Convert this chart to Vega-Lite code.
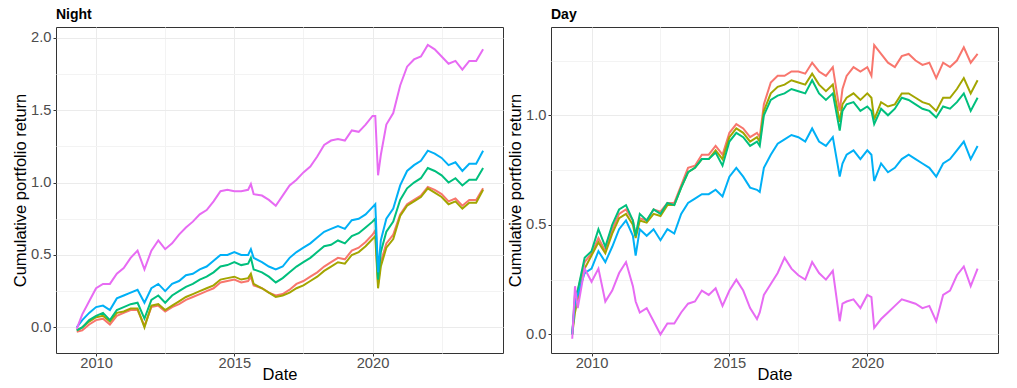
{
"$schema": "https://vega.github.io/schema/vega-lite/v6.json",
"padding": {"left": 12, "top": 7, "right": 4, "bottom": 0},
"config": {
  "view": {"stroke": "#333333", "strokeWidth": 1},
  "font": "Liberation Sans",
  "concat": {"spacing": 3},
  "title": {"anchor": "start", "frame": "group", "fontSize": 14, "fontWeight": "bold", "color": "#000000", "font": "Liberation Sans", "offset": 5},
  "axis": {"domain": false, "labelFont": "Liberation Sans", "labelFontSize": 14.7, "labelColor": "#4D4D4D", "titleFont": "Liberation Sans", "titleFontSize": 16.5, "titleFontWeight": "normal", "titleColor": "#000000", "tickColor": "#333333", "tickSize": 3, "labelPadding": 2, "titlePadding": 2},
  "axisX": {"labelPadding": -1, "titlePadding": -3}
},
"datasets": {
"night": [
{"t":2009.3,"s":"A","v":-0.03},{"t":2009.5,"s":"A","v":-0.02},{"t":2009.75,"s":"A","v":0.02},{"t":2010,"s":"A","v":0.05},{"t":2010.25,"s":"A","v":0.06},{"t":2010.5,"s":"A","v":0.02},{"t":2010.75,"s":"A","v":0.08},{"t":2011,"s":"A","v":0.10},{"t":2011.25,"s":"A","v":0.12},{"t":2011.5,"s":"A","v":0.12},{"t":2011.75,"s":"A","v":0.01},{"t":2012,"s":"A","v":0.14},{"t":2012.25,"s":"A","v":0.15},{"t":2012.5,"s":"A","v":0.11},{"t":2012.75,"s":"A","v":0.14},{"t":2013,"s":"A","v":0.16},{"t":2013.25,"s":"A","v":0.19},{"t":2013.5,"s":"A","v":0.21},{"t":2013.75,"s":"A","v":0.23},{"t":2014,"s":"A","v":0.25},{"t":2014.25,"s":"A","v":0.27},{"t":2014.5,"s":"A","v":0.31},{"t":2014.75,"s":"A","v":0.32},{"t":2015,"s":"A","v":0.33},{"t":2015.25,"s":"A","v":0.31},{"t":2015.5,"s":"A","v":0.32},{"t":2015.6,"s":"A","v":0.35},{"t":2015.7,"s":"A","v":0.29},{"t":2016,"s":"A","v":0.27},{"t":2016.25,"s":"A","v":0.24},{"t":2016.5,"s":"A","v":0.22},{"t":2016.75,"s":"A","v":0.23},{"t":2017,"s":"A","v":0.26},{"t":2017.25,"s":"A","v":0.30},{"t":2017.5,"s":"A","v":0.32},{"t":2017.75,"s":"A","v":0.35},{"t":2018,"s":"A","v":0.38},{"t":2018.25,"s":"A","v":0.42},{"t":2018.5,"s":"A","v":0.45},{"t":2018.75,"s":"A","v":0.48},{"t":2019,"s":"A","v":0.47},{"t":2019.25,"s":"A","v":0.53},{"t":2019.5,"s":"A","v":0.55},{"t":2019.75,"s":"A","v":0.59},{"t":2020,"s":"A","v":0.64},{"t":2020.1,"s":"A","v":0.67},{"t":2020.2,"s":"A","v":0.30},{"t":2020.3,"s":"A","v":0.45},{"t":2020.5,"s":"A","v":0.58},{"t":2020.75,"s":"A","v":0.64},{"t":2021,"s":"A","v":0.78},{"t":2021.25,"s":"A","v":0.85},{"t":2021.5,"s":"A","v":0.88},{"t":2021.75,"s":"A","v":0.91},{"t":2022,"s":"A","v":0.97},{"t":2022.25,"s":"A","v":0.95},{"t":2022.5,"s":"A","v":0.92},{"t":2022.75,"s":"A","v":0.87},{"t":2023,"s":"A","v":0.89},{"t":2023.25,"s":"A","v":0.84},{"t":2023.5,"s":"A","v":0.88},{"t":2023.75,"s":"A","v":0.88},{"t":2024,"s":"A","v":0.96},
{"t":2009.3,"s":"B","v":-0.02},{"t":2009.5,"s":"B","v":0.0},{"t":2009.75,"s":"B","v":0.04},{"t":2010,"s":"B","v":0.07},{"t":2010.25,"s":"B","v":0.08},{"t":2010.5,"s":"B","v":0.04},{"t":2010.75,"s":"B","v":0.10},{"t":2011,"s":"B","v":0.11},{"t":2011.25,"s":"B","v":0.13},{"t":2011.5,"s":"B","v":0.13},{"t":2011.75,"s":"B","v":0.0},{"t":2012,"s":"B","v":0.15},{"t":2012.25,"s":"B","v":0.16},{"t":2012.5,"s":"B","v":0.12},{"t":2012.75,"s":"B","v":0.15},{"t":2013,"s":"B","v":0.18},{"t":2013.25,"s":"B","v":0.21},{"t":2013.5,"s":"B","v":0.23},{"t":2013.75,"s":"B","v":0.25},{"t":2014,"s":"B","v":0.27},{"t":2014.25,"s":"B","v":0.29},{"t":2014.5,"s":"B","v":0.33},{"t":2014.75,"s":"B","v":0.34},{"t":2015,"s":"B","v":0.35},{"t":2015.25,"s":"B","v":0.33},{"t":2015.5,"s":"B","v":0.34},{"t":2015.6,"s":"B","v":0.37},{"t":2015.7,"s":"B","v":0.30},{"t":2016,"s":"B","v":0.27},{"t":2016.25,"s":"B","v":0.24},{"t":2016.5,"s":"B","v":0.21},{"t":2016.75,"s":"B","v":0.22},{"t":2017,"s":"B","v":0.24},{"t":2017.25,"s":"B","v":0.27},{"t":2017.5,"s":"B","v":0.29},{"t":2017.75,"s":"B","v":0.32},{"t":2018,"s":"B","v":0.35},{"t":2018.25,"s":"B","v":0.39},{"t":2018.5,"s":"B","v":0.42},{"t":2018.75,"s":"B","v":0.45},{"t":2019,"s":"B","v":0.44},{"t":2019.25,"s":"B","v":0.50},{"t":2019.5,"s":"B","v":0.52},{"t":2019.75,"s":"B","v":0.56},{"t":2020,"s":"B","v":0.61},{"t":2020.1,"s":"B","v":0.63},{"t":2020.2,"s":"B","v":0.27},{"t":2020.3,"s":"B","v":0.42},{"t":2020.5,"s":"B","v":0.55},{"t":2020.75,"s":"B","v":0.61},{"t":2021,"s":"B","v":0.77},{"t":2021.25,"s":"B","v":0.84},{"t":2021.5,"s":"B","v":0.87},{"t":2021.75,"s":"B","v":0.90},{"t":2022,"s":"B","v":0.96},{"t":2022.25,"s":"B","v":0.93},{"t":2022.5,"s":"B","v":0.90},{"t":2022.75,"s":"B","v":0.85},{"t":2023,"s":"B","v":0.87},{"t":2023.25,"s":"B","v":0.82},{"t":2023.5,"s":"B","v":0.86},{"t":2023.75,"s":"B","v":0.86},{"t":2024,"s":"B","v":0.95},
{"t":2009.3,"s":"C","v":-0.02},{"t":2009.5,"s":"C","v":0.0},{"t":2009.75,"s":"C","v":0.05},{"t":2010,"s":"C","v":0.08},{"t":2010.25,"s":"C","v":0.10},{"t":2010.5,"s":"C","v":0.05},{"t":2010.75,"s":"C","v":0.12},{"t":2011,"s":"C","v":0.14},{"t":2011.25,"s":"C","v":0.16},{"t":2011.5,"s":"C","v":0.17},{"t":2011.75,"s":"C","v":0.06},{"t":2012,"s":"C","v":0.19},{"t":2012.25,"s":"C","v":0.22},{"t":2012.5,"s":"C","v":0.17},{"t":2012.75,"s":"C","v":0.22},{"t":2013,"s":"C","v":0.25},{"t":2013.25,"s":"C","v":0.28},{"t":2013.5,"s":"C","v":0.30},{"t":2013.75,"s":"C","v":0.33},{"t":2014,"s":"C","v":0.35},{"t":2014.25,"s":"C","v":0.38},{"t":2014.5,"s":"C","v":0.42},{"t":2014.75,"s":"C","v":0.43},{"t":2015,"s":"C","v":0.45},{"t":2015.25,"s":"C","v":0.43},{"t":2015.5,"s":"C","v":0.44},{"t":2015.6,"s":"C","v":0.48},{"t":2015.7,"s":"C","v":0.40},{"t":2016,"s":"C","v":0.38},{"t":2016.25,"s":"C","v":0.35},{"t":2016.5,"s":"C","v":0.31},{"t":2016.75,"s":"C","v":0.34},{"t":2017,"s":"C","v":0.38},{"t":2017.25,"s":"C","v":0.42},{"t":2017.5,"s":"C","v":0.45},{"t":2017.75,"s":"C","v":0.48},{"t":2018,"s":"C","v":0.52},{"t":2018.25,"s":"C","v":0.56},{"t":2018.5,"s":"C","v":0.57},{"t":2018.75,"s":"C","v":0.60},{"t":2019,"s":"C","v":0.58},{"t":2019.25,"s":"C","v":0.63},{"t":2019.5,"s":"C","v":0.65},{"t":2019.75,"s":"C","v":0.69},{"t":2020,"s":"C","v":0.73},{"t":2020.1,"s":"C","v":0.75},{"t":2020.2,"s":"C","v":0.33},{"t":2020.3,"s":"C","v":0.52},{"t":2020.5,"s":"C","v":0.66},{"t":2020.75,"s":"C","v":0.73},{"t":2021,"s":"C","v":0.88},{"t":2021.25,"s":"C","v":0.96},{"t":2021.5,"s":"C","v":1.00},{"t":2021.75,"s":"C","v":1.03},{"t":2022,"s":"C","v":1.10},{"t":2022.25,"s":"C","v":1.08},{"t":2022.5,"s":"C","v":1.05},{"t":2022.75,"s":"C","v":1.00},{"t":2023,"s":"C","v":1.03},{"t":2023.25,"s":"C","v":0.98},{"t":2023.5,"s":"C","v":1.02},{"t":2023.75,"s":"C","v":1.02},{"t":2024,"s":"C","v":1.10},
{"t":2009.3,"s":"D","v":0.0},{"t":2009.5,"s":"D","v":0.05},{"t":2009.75,"s":"D","v":0.10},{"t":2010,"s":"D","v":0.14},{"t":2010.25,"s":"D","v":0.15},{"t":2010.5,"s":"D","v":0.12},{"t":2010.75,"s":"D","v":0.20},{"t":2011,"s":"D","v":0.22},{"t":2011.25,"s":"D","v":0.24},{"t":2011.5,"s":"D","v":0.26},{"t":2011.75,"s":"D","v":0.17},{"t":2012,"s":"D","v":0.27},{"t":2012.25,"s":"D","v":0.30},{"t":2012.5,"s":"D","v":0.25},{"t":2012.75,"s":"D","v":0.30},{"t":2013,"s":"D","v":0.32},{"t":2013.25,"s":"D","v":0.36},{"t":2013.5,"s":"D","v":0.37},{"t":2013.75,"s":"D","v":0.40},{"t":2014,"s":"D","v":0.42},{"t":2014.25,"s":"D","v":0.46},{"t":2014.5,"s":"D","v":0.50},{"t":2014.75,"s":"D","v":0.50},{"t":2015,"s":"D","v":0.52},{"t":2015.25,"s":"D","v":0.50},{"t":2015.5,"s":"D","v":0.50},{"t":2015.6,"s":"D","v":0.54},{"t":2015.7,"s":"D","v":0.48},{"t":2016,"s":"D","v":0.45},{"t":2016.25,"s":"D","v":0.42},{"t":2016.5,"s":"D","v":0.40},{"t":2016.75,"s":"D","v":0.42},{"t":2017,"s":"D","v":0.48},{"t":2017.25,"s":"D","v":0.52},{"t":2017.5,"s":"D","v":0.55},{"t":2017.75,"s":"D","v":0.58},{"t":2018,"s":"D","v":0.62},{"t":2018.25,"s":"D","v":0.66},{"t":2018.5,"s":"D","v":0.68},{"t":2018.75,"s":"D","v":0.70},{"t":2019,"s":"D","v":0.68},{"t":2019.25,"s":"D","v":0.74},{"t":2019.5,"s":"D","v":0.75},{"t":2019.75,"s":"D","v":0.78},{"t":2020,"s":"D","v":0.83},{"t":2020.1,"s":"D","v":0.85},{"t":2020.2,"s":"D","v":0.38},{"t":2020.3,"s":"D","v":0.60},{"t":2020.5,"s":"D","v":0.75},{"t":2020.75,"s":"D","v":0.82},{"t":2021,"s":"D","v":0.98},{"t":2021.25,"s":"D","v":1.08},{"t":2021.5,"s":"D","v":1.12},{"t":2021.75,"s":"D","v":1.15},{"t":2022,"s":"D","v":1.22},{"t":2022.25,"s":"D","v":1.20},{"t":2022.5,"s":"D","v":1.17},{"t":2022.75,"s":"D","v":1.12},{"t":2023,"s":"D","v":1.14},{"t":2023.25,"s":"D","v":1.08},{"t":2023.5,"s":"D","v":1.13},{"t":2023.75,"s":"D","v":1.13},{"t":2024,"s":"D","v":1.22},
{"t":2009.3,"s":"E","v":-0.01},{"t":2009.5,"s":"E","v":0.09},{"t":2009.75,"s":"E","v":0.18},{"t":2010,"s":"E","v":0.27},{"t":2010.25,"s":"E","v":0.30},{"t":2010.5,"s":"E","v":0.30},{"t":2010.75,"s":"E","v":0.37},{"t":2011,"s":"E","v":0.41},{"t":2011.25,"s":"E","v":0.48},{"t":2011.5,"s":"E","v":0.53},{"t":2011.75,"s":"E","v":0.40},{"t":2012,"s":"E","v":0.53},{"t":2012.25,"s":"E","v":0.60},{"t":2012.5,"s":"E","v":0.54},{"t":2012.75,"s":"E","v":0.58},{"t":2013,"s":"E","v":0.64},{"t":2013.25,"s":"E","v":0.69},{"t":2013.5,"s":"E","v":0.73},{"t":2013.75,"s":"E","v":0.78},{"t":2014,"s":"E","v":0.81},{"t":2014.25,"s":"E","v":0.87},{"t":2014.5,"s":"E","v":0.94},{"t":2014.75,"s":"E","v":0.95},{"t":2015,"s":"E","v":0.94},{"t":2015.25,"s":"E","v":0.94},{"t":2015.5,"s":"E","v":0.95},{"t":2015.6,"s":"E","v":0.99},{"t":2015.7,"s":"E","v":0.92},{"t":2016,"s":"E","v":0.91},{"t":2016.25,"s":"E","v":0.88},{"t":2016.5,"s":"E","v":0.84},{"t":2016.75,"s":"E","v":0.91},{"t":2017,"s":"E","v":0.98},{"t":2017.25,"s":"E","v":1.02},{"t":2017.5,"s":"E","v":1.07},{"t":2017.75,"s":"E","v":1.11},{"t":2018,"s":"E","v":1.18},{"t":2018.25,"s":"E","v":1.26},{"t":2018.5,"s":"E","v":1.29},{"t":2018.75,"s":"E","v":1.30},{"t":2019,"s":"E","v":1.29},{"t":2019.25,"s":"E","v":1.36},{"t":2019.5,"s":"E","v":1.35},{"t":2019.75,"s":"E","v":1.40},{"t":2020,"s":"E","v":1.46},{"t":2020.1,"s":"E","v":1.46},{"t":2020.2,"s":"E","v":1.05},{"t":2020.3,"s":"E","v":1.19},{"t":2020.5,"s":"E","v":1.40},{"t":2020.75,"s":"E","v":1.48},{"t":2021,"s":"E","v":1.67},{"t":2021.25,"s":"E","v":1.80},{"t":2021.5,"s":"E","v":1.85},{"t":2021.75,"s":"E","v":1.87},{"t":2022,"s":"E","v":1.95},{"t":2022.25,"s":"E","v":1.92},{"t":2022.5,"s":"E","v":1.87},{"t":2022.75,"s":"E","v":1.82},{"t":2023,"s":"E","v":1.84},{"t":2023.25,"s":"E","v":1.78},{"t":2023.5,"s":"E","v":1.84},{"t":2023.75,"s":"E","v":1.84},{"t":2024,"s":"E","v":1.92}
],
"day": [
{"t":2009.3,"s":"A","v":0.0},{"t":2009.4,"s":"A","v":0.15},{"t":2009.5,"s":"A","v":0.20},{"t":2009.75,"s":"A","v":0.33},{"t":2010,"s":"A","v":0.37},{"t":2010.25,"s":"A","v":0.44},{"t":2010.5,"s":"A","v":0.38},{"t":2010.75,"s":"A","v":0.48},{"t":2011,"s":"A","v":0.55},{"t":2011.25,"s":"A","v":0.57},{"t":2011.5,"s":"A","v":0.52},{"t":2011.6,"s":"A","v":0.45},{"t":2011.75,"s":"A","v":0.53},{"t":2012,"s":"A","v":0.52},{"t":2012.25,"s":"A","v":0.57},{"t":2012.5,"s":"A","v":0.56},{"t":2012.75,"s":"A","v":0.60},{"t":2013,"s":"A","v":0.60},{"t":2013.25,"s":"A","v":0.68},{"t":2013.5,"s":"A","v":0.76},{"t":2013.75,"s":"A","v":0.77},{"t":2014,"s":"A","v":0.82},{"t":2014.25,"s":"A","v":0.82},{"t":2014.5,"s":"A","v":0.86},{"t":2014.75,"s":"A","v":0.82},{"t":2015,"s":"A","v":0.92},{"t":2015.25,"s":"A","v":0.96},{"t":2015.5,"s":"A","v":0.94},{"t":2015.75,"s":"A","v":0.90},{"t":2016,"s":"A","v":0.92},{"t":2016.1,"s":"A","v":0.90},{"t":2016.25,"s":"A","v":1.05},{"t":2016.5,"s":"A","v":1.15},{"t":2016.75,"s":"A","v":1.18},{"t":2017,"s":"A","v":1.18},{"t":2017.25,"s":"A","v":1.20},{"t":2017.5,"s":"A","v":1.20},{"t":2017.75,"s":"A","v":1.19},{"t":2018,"s":"A","v":1.24},{"t":2018.25,"s":"A","v":1.20},{"t":2018.5,"s":"A","v":1.18},{"t":2018.75,"s":"A","v":1.22},{"t":2019,"s":"A","v":1.02},{"t":2019.1,"s":"A","v":1.12},{"t":2019.25,"s":"A","v":1.18},{"t":2019.5,"s":"A","v":1.22},{"t":2019.75,"s":"A","v":1.20},{"t":2020,"s":"A","v":1.22},{"t":2020.15,"s":"A","v":1.18},{"t":2020.25,"s":"A","v":1.32},{"t":2020.5,"s":"A","v":1.28},{"t":2020.75,"s":"A","v":1.24},{"t":2021,"s":"A","v":1.22},{"t":2021.25,"s":"A","v":1.27},{"t":2021.5,"s":"A","v":1.28},{"t":2021.75,"s":"A","v":1.25},{"t":2022,"s":"A","v":1.23},{"t":2022.25,"s":"A","v":1.24},{"t":2022.5,"s":"A","v":1.17},{"t":2022.75,"s":"A","v":1.24},{"t":2023,"s":"A","v":1.22},{"t":2023.25,"s":"A","v":1.25},{"t":2023.5,"s":"A","v":1.31},{"t":2023.75,"s":"A","v":1.24},{"t":2024,"s":"A","v":1.28},
{"t":2009.3,"s":"B","v":0.0},{"t":2009.4,"s":"B","v":0.10},{"t":2009.5,"s":"B","v":0.16},{"t":2009.75,"s":"B","v":0.30},{"t":2010,"s":"B","v":0.36},{"t":2010.25,"s":"B","v":0.42},{"t":2010.5,"s":"B","v":0.37},{"t":2010.75,"s":"B","v":0.46},{"t":2011,"s":"B","v":0.53},{"t":2011.25,"s":"B","v":0.55},{"t":2011.5,"s":"B","v":0.50},{"t":2011.6,"s":"B","v":0.44},{"t":2011.75,"s":"B","v":0.52},{"t":2012,"s":"B","v":0.51},{"t":2012.25,"s":"B","v":0.55},{"t":2012.5,"s":"B","v":0.54},{"t":2012.75,"s":"B","v":0.59},{"t":2013,"s":"B","v":0.59},{"t":2013.25,"s":"B","v":0.67},{"t":2013.5,"s":"B","v":0.74},{"t":2013.75,"s":"B","v":0.76},{"t":2014,"s":"B","v":0.80},{"t":2014.25,"s":"B","v":0.80},{"t":2014.5,"s":"B","v":0.84},{"t":2014.75,"s":"B","v":0.80},{"t":2015,"s":"B","v":0.90},{"t":2015.25,"s":"B","v":0.94},{"t":2015.5,"s":"B","v":0.92},{"t":2015.75,"s":"B","v":0.88},{"t":2016,"s":"B","v":0.90},{"t":2016.1,"s":"B","v":0.88},{"t":2016.25,"s":"B","v":1.02},{"t":2016.5,"s":"B","v":1.10},{"t":2016.75,"s":"B","v":1.13},{"t":2017,"s":"B","v":1.14},{"t":2017.25,"s":"B","v":1.16},{"t":2017.5,"s":"B","v":1.15},{"t":2017.75,"s":"B","v":1.14},{"t":2018,"s":"B","v":1.19},{"t":2018.25,"s":"B","v":1.14},{"t":2018.5,"s":"B","v":1.11},{"t":2018.75,"s":"B","v":1.14},{"t":2019,"s":"B","v":0.97},{"t":2019.1,"s":"B","v":1.05},{"t":2019.25,"s":"B","v":1.08},{"t":2019.5,"s":"B","v":1.10},{"t":2019.75,"s":"B","v":1.07},{"t":2020,"s":"B","v":1.10},{"t":2020.15,"s":"B","v":1.08},{"t":2020.25,"s":"B","v":0.98},{"t":2020.5,"s":"B","v":1.06},{"t":2020.75,"s":"B","v":1.04},{"t":2021,"s":"B","v":1.05},{"t":2021.25,"s":"B","v":1.10},{"t":2021.5,"s":"B","v":1.10},{"t":2021.75,"s":"B","v":1.08},{"t":2022,"s":"B","v":1.06},{"t":2022.25,"s":"B","v":1.05},{"t":2022.5,"s":"B","v":1.02},{"t":2022.75,"s":"B","v":1.08},{"t":2023,"s":"B","v":1.08},{"t":2023.25,"s":"B","v":1.12},{"t":2023.5,"s":"B","v":1.17},{"t":2023.75,"s":"B","v":1.10},{"t":2024,"s":"B","v":1.16},
{"t":2009.3,"s":"C","v":0.0},{"t":2009.4,"s":"C","v":0.18},{"t":2009.5,"s":"C","v":0.20},{"t":2009.75,"s":"C","v":0.35},{"t":2010,"s":"C","v":0.38},{"t":2010.25,"s":"C","v":0.48},{"t":2010.5,"s":"C","v":0.40},{"t":2010.75,"s":"C","v":0.50},{"t":2011,"s":"C","v":0.57},{"t":2011.25,"s":"C","v":0.59},{"t":2011.5,"s":"C","v":0.52},{"t":2011.6,"s":"C","v":0.45},{"t":2011.75,"s":"C","v":0.55},{"t":2012,"s":"C","v":0.52},{"t":2012.25,"s":"C","v":0.57},{"t":2012.5,"s":"C","v":0.55},{"t":2012.75,"s":"C","v":0.60},{"t":2013,"s":"C","v":0.59},{"t":2013.25,"s":"C","v":0.67},{"t":2013.5,"s":"C","v":0.74},{"t":2013.75,"s":"C","v":0.76},{"t":2014,"s":"C","v":0.80},{"t":2014.25,"s":"C","v":0.80},{"t":2014.5,"s":"C","v":0.83},{"t":2014.75,"s":"C","v":0.77},{"t":2015,"s":"C","v":0.88},{"t":2015.25,"s":"C","v":0.92},{"t":2015.5,"s":"C","v":0.90},{"t":2015.75,"s":"C","v":0.86},{"t":2016,"s":"C","v":0.88},{"t":2016.1,"s":"C","v":0.86},{"t":2016.25,"s":"C","v":1.00},{"t":2016.5,"s":"C","v":1.07},{"t":2016.75,"s":"C","v":1.09},{"t":2017,"s":"C","v":1.10},{"t":2017.25,"s":"C","v":1.12},{"t":2017.5,"s":"C","v":1.11},{"t":2017.75,"s":"C","v":1.10},{"t":2018,"s":"C","v":1.16},{"t":2018.25,"s":"C","v":1.10},{"t":2018.5,"s":"C","v":1.07},{"t":2018.75,"s":"C","v":1.10},{"t":2019,"s":"C","v":0.93},{"t":2019.1,"s":"C","v":1.02},{"t":2019.25,"s":"C","v":1.05},{"t":2019.5,"s":"C","v":1.06},{"t":2019.75,"s":"C","v":1.02},{"t":2020,"s":"C","v":1.04},{"t":2020.15,"s":"C","v":1.02},{"t":2020.25,"s":"C","v":0.96},{"t":2020.5,"s":"C","v":1.03},{"t":2020.75,"s":"C","v":1.00},{"t":2021,"s":"C","v":1.03},{"t":2021.25,"s":"C","v":1.08},{"t":2021.5,"s":"C","v":1.07},{"t":2021.75,"s":"C","v":1.05},{"t":2022,"s":"C","v":1.03},{"t":2022.25,"s":"C","v":1.02},{"t":2022.5,"s":"C","v":0.99},{"t":2022.75,"s":"C","v":1.04},{"t":2023,"s":"C","v":1.03},{"t":2023.25,"s":"C","v":1.06},{"t":2023.5,"s":"C","v":1.10},{"t":2023.75,"s":"C","v":1.02},{"t":2024,"s":"C","v":1.08},
{"t":2009.3,"s":"D","v":0.0},{"t":2009.4,"s":"D","v":0.15},{"t":2009.5,"s":"D","v":0.18},{"t":2009.75,"s":"D","v":0.28},{"t":2010,"s":"D","v":0.30},{"t":2010.25,"s":"D","v":0.38},{"t":2010.5,"s":"D","v":0.33},{"t":2010.75,"s":"D","v":0.40},{"t":2011,"s":"D","v":0.48},{"t":2011.25,"s":"D","v":0.52},{"t":2011.5,"s":"D","v":0.45},{"t":2011.6,"s":"D","v":0.36},{"t":2011.75,"s":"D","v":0.48},{"t":2012,"s":"D","v":0.45},{"t":2012.25,"s":"D","v":0.48},{"t":2012.5,"s":"D","v":0.43},{"t":2012.75,"s":"D","v":0.48},{"t":2013,"s":"D","v":0.46},{"t":2013.25,"s":"D","v":0.55},{"t":2013.5,"s":"D","v":0.60},{"t":2013.75,"s":"D","v":0.62},{"t":2014,"s":"D","v":0.64},{"t":2014.25,"s":"D","v":0.64},{"t":2014.5,"s":"D","v":0.66},{"t":2014.75,"s":"D","v":0.63},{"t":2015,"s":"D","v":0.72},{"t":2015.25,"s":"D","v":0.76},{"t":2015.5,"s":"D","v":0.72},{"t":2015.75,"s":"D","v":0.67},{"t":2016,"s":"D","v":0.66},{"t":2016.1,"s":"D","v":0.65},{"t":2016.25,"s":"D","v":0.76},{"t":2016.5,"s":"D","v":0.82},{"t":2016.75,"s":"D","v":0.87},{"t":2017,"s":"D","v":0.89},{"t":2017.25,"s":"D","v":0.91},{"t":2017.5,"s":"D","v":0.90},{"t":2017.75,"s":"D","v":0.88},{"t":2018,"s":"D","v":0.94},{"t":2018.25,"s":"D","v":0.88},{"t":2018.5,"s":"D","v":0.86},{"t":2018.75,"s":"D","v":0.90},{"t":2019,"s":"D","v":0.72},{"t":2019.1,"s":"D","v":0.78},{"t":2019.25,"s":"D","v":0.82},{"t":2019.5,"s":"D","v":0.84},{"t":2019.75,"s":"D","v":0.80},{"t":2020,"s":"D","v":0.84},{"t":2020.15,"s":"D","v":0.82},{"t":2020.25,"s":"D","v":0.70},{"t":2020.5,"s":"D","v":0.78},{"t":2020.75,"s":"D","v":0.74},{"t":2021,"s":"D","v":0.76},{"t":2021.25,"s":"D","v":0.80},{"t":2021.5,"s":"D","v":0.82},{"t":2021.75,"s":"D","v":0.80},{"t":2022,"s":"D","v":0.78},{"t":2022.25,"s":"D","v":0.76},{"t":2022.5,"s":"D","v":0.72},{"t":2022.75,"s":"D","v":0.78},{"t":2023,"s":"D","v":0.80},{"t":2023.25,"s":"D","v":0.84},{"t":2023.5,"s":"D","v":0.88},{"t":2023.75,"s":"D","v":0.80},{"t":2024,"s":"D","v":0.86},
{"t":2009.3,"s":"E","v":-0.02},{"t":2009.4,"s":"E","v":0.22},{"t":2009.5,"s":"E","v":0.12},{"t":2009.75,"s":"E","v":0.30},{"t":2010,"s":"E","v":0.24},{"t":2010.25,"s":"E","v":0.30},{"t":2010.5,"s":"E","v":0.15},{"t":2010.75,"s":"E","v":0.20},{"t":2011,"s":"E","v":0.28},{"t":2011.25,"s":"E","v":0.33},{"t":2011.5,"s":"E","v":0.22},{"t":2011.6,"s":"E","v":0.15},{"t":2011.75,"s":"E","v":0.10},{"t":2012,"s":"E","v":0.12},{"t":2012.25,"s":"E","v":0.06},{"t":2012.5,"s":"E","v":0.0},{"t":2012.75,"s":"E","v":0.05},{"t":2013,"s":"E","v":0.05},{"t":2013.25,"s":"E","v":0.10},{"t":2013.5,"s":"E","v":0.14},{"t":2013.75,"s":"E","v":0.15},{"t":2014,"s":"E","v":0.20},{"t":2014.25,"s":"E","v":0.18},{"t":2014.5,"s":"E","v":0.21},{"t":2014.75,"s":"E","v":0.13},{"t":2015,"s":"E","v":0.20},{"t":2015.25,"s":"E","v":0.25},{"t":2015.5,"s":"E","v":0.20},{"t":2015.75,"s":"E","v":0.12},{"t":2016,"s":"E","v":0.07},{"t":2016.1,"s":"E","v":0.10},{"t":2016.25,"s":"E","v":0.18},{"t":2016.5,"s":"E","v":0.23},{"t":2016.75,"s":"E","v":0.28},{"t":2017,"s":"E","v":0.35},{"t":2017.25,"s":"E","v":0.30},{"t":2017.5,"s":"E","v":0.27},{"t":2017.75,"s":"E","v":0.25},{"t":2018,"s":"E","v":0.33},{"t":2018.25,"s":"E","v":0.28},{"t":2018.5,"s":"E","v":0.25},{"t":2018.75,"s":"E","v":0.29},{"t":2019,"s":"E","v":0.06},{"t":2019.1,"s":"E","v":0.14},{"t":2019.25,"s":"E","v":0.15},{"t":2019.5,"s":"E","v":0.16},{"t":2019.75,"s":"E","v":0.12},{"t":2020,"s":"E","v":0.18},{"t":2020.15,"s":"E","v":0.17},{"t":2020.25,"s":"E","v":0.03},{"t":2020.5,"s":"E","v":0.07},{"t":2020.75,"s":"E","v":0.10},{"t":2021,"s":"E","v":0.13},{"t":2021.25,"s":"E","v":0.16},{"t":2021.5,"s":"E","v":0.15},{"t":2021.75,"s":"E","v":0.14},{"t":2022,"s":"E","v":0.12},{"t":2022.25,"s":"E","v":0.13},{"t":2022.5,"s":"E","v":0.06},{"t":2022.75,"s":"E","v":0.18},{"t":2023,"s":"E","v":0.20},{"t":2023.25,"s":"E","v":0.27},{"t":2023.5,"s":"E","v":0.31},{"t":2023.75,"s":"E","v":0.22},{"t":2024,"s":"E","v":0.30}
]
},
"hconcat": [
{
  "title": "Night",
  "width": 447, "height": 326,
  "data": {"name": "night"},
  "mark": {"type": "line", "strokeWidth": 2, "clip": true},
  "encoding": {
    "x": {"field": "t", "type": "quantitative", "title": "Date",
      "scale": {"domain": [2008.55, 2024.72], "nice": false, "zero": false},
      "axis": {"values": [2010, 2012.5, 2015, 2017.5, 2020, 2022.5],
        "labelExpr": "datum.value % 5 == 0 ? format(datum.value, 'd') : ''",
        "gridColor": {"condition": {"test": "datum.value % 5 != 0", "value": "#F3F3F3"}, "value": "#EBEBEB"},
        "tickOpacity": {"condition": {"test": "datum.value % 5 != 0", "value": 0}, "value": 1},
        "labelFlush": false}},
    "y": {"field": "v", "type": "quantitative", "title": "Cumulative portfolio return",
      "scale": {"domain": [-0.177, 2.074], "nice": false, "zero": false},
      "axis": {"values": [0, 0.25, 0.5, 0.75, 1, 1.25, 1.5, 1.75, 2],
        "labelExpr": "(datum.value * 2) % 1 == 0 ? format(datum.value, '.1f') : ''",
        "gridColor": {"condition": {"test": "(datum.value * 2) % 1 != 0", "value": "#F3F3F3"}, "value": "#EBEBEB"},
        "tickOpacity": {"condition": {"test": "(datum.value * 2) % 1 != 0", "value": 0}, "value": 1}}},
    "color": {"field": "s", "type": "nominal", "legend": null,
      "scale": {"domain": ["A", "B", "C", "D", "E"], "range": ["#F8766D", "#A3A500", "#00BF7D", "#00B0F6", "#E76BF3"]}},
    "order": {"field": "t", "type": "quantitative"}
  }
},
{
  "title": "Day",
  "width": 447, "height": 326,
  "data": {"name": "day"},
  "mark": {"type": "line", "strokeWidth": 2, "clip": true},
  "encoding": {
    "x": {"field": "t", "type": "quantitative", "title": "Date",
      "scale": {"domain": [2008.53, 2024.74], "nice": false, "zero": false},
      "axis": {"values": [2010, 2012.5, 2015, 2017.5, 2020, 2022.5],
        "labelExpr": "datum.value % 5 == 0 ? format(datum.value, 'd') : ''",
        "gridColor": {"condition": {"test": "datum.value % 5 != 0", "value": "#F3F3F3"}, "value": "#EBEBEB"},
        "tickOpacity": {"condition": {"test": "datum.value % 5 != 0", "value": 0}, "value": 1},
        "labelFlush": false}},
    "y": {"field": "v", "type": "quantitative", "title": "Cumulative portfolio return",
      "scale": {"domain": [-0.085, 1.403], "nice": false, "zero": false},
      "axis": {"values": [0, 0.25, 0.5, 0.75, 1, 1.25],
        "labelExpr": "(datum.value * 2) % 1 == 0 ? format(datum.value, '.1f') : ''",
        "gridColor": {"condition": {"test": "(datum.value * 2) % 1 != 0", "value": "#F3F3F3"}, "value": "#EBEBEB"},
        "tickOpacity": {"condition": {"test": "(datum.value * 2) % 1 != 0", "value": 0}, "value": 1}}},
    "color": {"field": "s", "type": "nominal", "legend": null,
      "scale": {"domain": ["A", "B", "C", "D", "E"], "range": ["#F8766D", "#A3A500", "#00BF7D", "#00B0F6", "#E76BF3"]}},
    "order": {"field": "t", "type": "quantitative"}
  }
}
]
}
